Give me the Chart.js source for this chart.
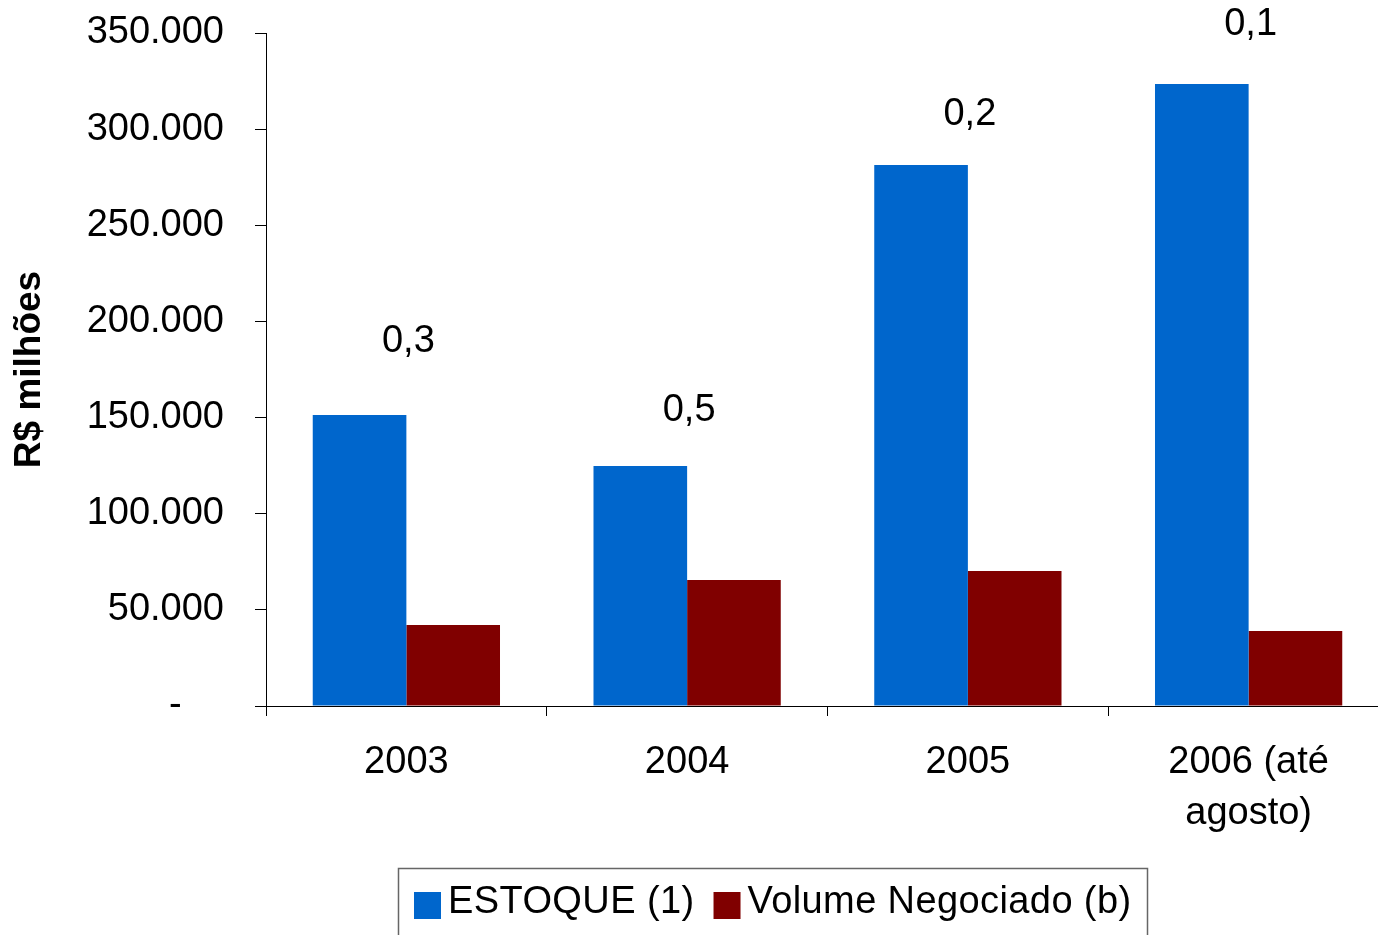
<!DOCTYPE html>
<html>
<head>
<meta charset="utf-8">
<script src="https://cdn.jsdelivr.net/npm/chart.js@4/dist/chart.umd.min.js"></script>
<style>
  html, body { margin: 0; padding: 0; background: #fff; overflow: hidden; }
  #wrap { position: relative; width: 1378px; height: 935px; overflow: hidden; }
  canvas { display: block; }
</style>
</head>
<body>
<div id="wrap"><canvas id="c" width="1392" height="935"></canvas></div>
<script>
// ---- data ----
const categories = ['2003', '2004', '2005', ['2006 (até', 'agosto)']];
const estoque = [151300, 124800, 281400, 323500];
const volumeNegociado = [42100, 65500, 70200, 39000];
const ratioLabels = ['0,3', '0,5', '0,2', '0,1'];
const seriesNames = ['ESTOQUE (1)', 'Volume Negociado (b)'];
const yTickValues = [0, 50000, 100000, 150000, 200000, 250000, 300000, 350000];
const yTickLabels = ['-\u00a0\u00a0\u00a0\u00a0', '50.000', '100.000', '150.000', '200.000', '250.000', '300.000', '350.000'];

// ---- styles ----
const FONT = '"Liberation Sans", Arial, sans-serif';
const colors = ['#0066CC', '#800000'];

Chart.defaults.font.family = FONT;
Chart.defaults.color = '#000';

const ratioLabelPlugin = {
  id: 'ratioLabels',
  afterDatasetsDraw(chart, args, opts) {
    const ctx = chart.ctx;
    const meta = chart.getDatasetMeta(0);
    const xs = chart.scales.x;
    ctx.save();
    ctx.font = '38px ' + FONT;
    ctx.fillStyle = '#000';
    ctx.textAlign = 'center';
    ctx.textBaseline = 'middle';
    meta.data.forEach((bar, i) => {
      ctx.fillText(ratioLabels[i], xs.getPixelForValue(i) + 2, bar.y - opts.lift[i]);
    });
    ctx.restore();
  }
};

const boxLegendPlugin = {
  id: 'boxLegend',
  afterDraw(chart, args, opts) {
    const ctx = chart.ctx;
    ctx.save();
    ctx.font = '38px ' + FONT;
    if ('letterSpacing' in ctx) ctx.letterSpacing = '0.4px';
    ctx.textBaseline = 'alphabetic';
    ctx.textAlign = 'left';
    let x = opts.left + 16;
    const sq = 27;
    chart.data.datasets.forEach((ds, i) => {
      ctx.fillStyle = ds.backgroundColor;
      ctx.fillRect(x, opts.top + 24, sq, sq);
      x += sq + 7;
      ctx.fillStyle = '#000';
      ctx.fillText(ds.label, x, opts.top + 45);
      x += ctx.measureText(ds.label).width + 19;
    });
    ctx.strokeStyle = '#666';
    ctx.lineWidth = 1.5;
    ctx.strokeRect(opts.left + 0.5, opts.top + 0.5, opts.width, 120);
    ctx.restore();
  }
};

new Chart(document.getElementById('c'), {
  type: 'bar',
  data: {
    labels: categories,
    datasets: [
      { label: seriesNames[0], data: estoque, backgroundColor: colors[0], borderWidth: 0, categoryPercentage: 0.667, barPercentage: 1 },
      { label: seriesNames[1], data: volumeNegociado, backgroundColor: colors[1], borderWidth: 0, categoryPercentage: 0.667, barPercentage: 1 }
    ]
  },
  options: {
    responsive: false,
    animation: false,
    layout: { padding: { top: 33, right: 3, left: 0, bottom: 0 } },
    plugins: {
      legend: { display: false },
      tooltip: { enabled: false },
      ratioLabels: { lift: [74, 56, 50, 59] },
      boxLegend: { left: 398, top: 868, width: 749 }
    },
    scales: {
      x: {
        grid: { display: true, drawOnChartArea: false, drawTicks: true, tickLength: 10, color: '#000', offset: true, lineWidth: 1 },
        border: { display: true, color: '#000', width: 1 },
        ticks: { font: { size: 38, lineHeight: 1.35 }, padding: 21, maxRotation: 0, autoSkip: false, color: '#000' },
        afterFit: s => { s.height = 229; }
      },
      y: {
        min: 0,
        max: 350000,
        afterBuildTicks: s => { s.ticks = yTickValues.map(v => ({ value: v })); },
        ticks: { font: { size: 38 }, padding: 31, color: '#000',
                 callback: v => yTickLabels[yTickValues.indexOf(v)] },
        grid: { drawOnChartArea: false, drawTicks: true, tickLength: 11, color: '#000', lineWidth: 1 },
        border: { display: true, color: '#000', width: 1 },
        title: { display: true, text: 'R$ milhões', color: '#000',
                 font: { size: 37, weight: 'bold', lineHeight: 1 }, padding: { top: 11, bottom: 0 } },
        afterFit: s => { s.width = 266; s.paddingTop = 0; s.paddingBottom = 0; }
      }
    }
  },
  plugins: [ratioLabelPlugin, boxLegendPlugin]
});
</script>
</body>
</html>
